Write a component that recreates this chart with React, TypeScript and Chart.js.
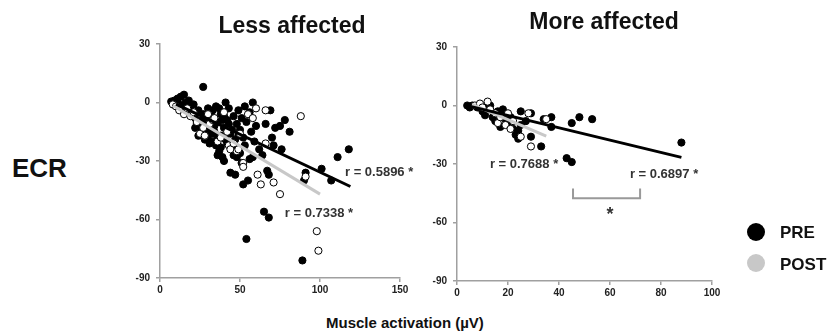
import React, { useEffect, useRef } from "react";
import { Chart, registerables } from "chart.js";
Chart.register(...registerables);

type Pt = [number, number];

// ---------- Data: Less affected ----------
const lessPre: Pt[] = [
  [7, 0.5], [9, 1], [11, 2], [12, -1], [13, 3], [14, -2], [15, 4], [16, 0], [17, -3], [18, 1],
  [19, -2], [20, -5], [21, -1], [22, -8], [23, -11], [24, -4], [25, -12], [26, -14], [27, 8], [27, -6],
  [28, -9], [29, -16], [30, -3], [30, -18], [31, -12], [32, -7], [33, -20], [34, -15], [35, -2], [35, -22],
  [36, -10], [37, -25], [38, -6], [38, -17], [39, -28], [40, -13], [40, -30], [41, 0], [42, -9], [42, -21],
  [43, -3], [44, -16], [45, -24], [46, -7], [47, -19], [48, -11], [48, -28], [49, -4], [50, -14], [50, -26],
  [51, -8], [51, -31], [52, -18], [52, -42], [53, -2], [53, -22], [54, -10], [54, -70], [55, -40], [56, -5],
  [56, -29], [57, -15], [58, 0], [58, -28], [59, -20], [60, -12], [62, -24], [64, -27], [65, -56], [66, -11],
  [67, -35], [68, -59], [68, -37], [69, -4], [70, -18], [71, -22], [72, -13], [75, -12], [76, -24], [78, -9],
  [81, -15], [89, -81], [90, -40], [91, -36], [101, -34], [107, -40], [111, -28], [118, -24], [47, -37], [44, -36],
  [22, -13], [24, -17], [26, -9], [28, -19], [31, -21], [33, -4], [34, -12], [36, -18], [37, -3], [39, -9],
  [41, -19], [43, -11], [45, -14], [46, -27], [49, -17], [36, -27], [38, -23], [40, -7], [33, -16], [30, -14],
];
const lessPost: Pt[] = [
  [8, -1], [10, -2], [12, -4], [15, -6], [17, -3], [19, -7], [21, -5], [23, -10], [25, -16], [27, -13],
  [28, -17], [30, -6], [31, -11], [33, -9], [34, -8], [36, -20], [38, -18], [40, -5], [42, -15], [43, -22],
  [44, -24], [46, -21], [48, -25], [49, -24], [50, -16], [52, -31], [52, -33], [55, -6], [58, -8], [60, -3],
  [61, -37], [63, -42], [66, -4], [66, -21], [71, -41], [75, -47], [88, -7], [91, -38], [98, -66], [99, -76],
];
const lessPreFit = { slope: -0.388, intercept: 3.1, xStart: 10, xEnd: 119 };
const lessPostFit = { slope: -0.494, intercept: 2.4, xStart: 8, xEnd: 100 };
const lessLabels = [
  { text: "r = 0.5896 *", x: 115.6, y: -36 },
  { text: "r = 0.7338 *", x: 78, y: -57 },
];

// ---------- Data: More affected ----------
const morePre: Pt[] = [
  [4, 0], [5, -1], [6, 0], [8, -1], [10, -3], [11, -5], [12, -1], [13, 0], [14, -6], [15, -8],
  [16, -3], [17, -11], [18, -2], [19, -7], [20, -9], [21, -6], [22, -12], [23, -15], [24, -17], [24, -13],
  [25, -10], [25, -3], [27, -8], [29, -16], [29, -4], [33, -21], [34, -7], [37, -6], [37, -11], [43, -27],
  [45, -29], [45, -9], [48, -6], [53, -7], [88, -19],
];
const morePost: Pt[] = [
  [7, 0], [9, 1], [10, -1], [12, 2], [13, -2], [15, -4], [16, -9], [17, -6], [19, -10], [20, -4],
  [21, -12], [22, -8], [25, -16], [28, -4], [29, -21], [35, -7],
];
const morePreFit = { slope: -0.316, intercept: 1.2, xStart: 4, xEnd: 88 };
const morePostFit = { slope: -0.56, intercept: 3.9, xStart: 6, xEnd: 35 };
const moreLabels = [
  { text: "r = 0.7688 *", x: 12.9, y: -30.3 },
  { text: "r = 0.6897 *", x: 67.8, y: -35.4 },
];
const moreBracket = { x1: 45.5, x2: 71.8, yTop: -42.5, yBottom: -47.5 };
const moreStar = { text: "*", x: 60, y: -56 };

// ---------- Axes ----------
const yMin = -90, yMax = 30, yStep = 30;
const lessXMax = 150, lessXStep = 50;
const moreXMax = 100, moreXStep = 20;

const FONT = "'Liberation Sans', Arial, sans-serif";
const AXIS = "#a0a0a0";

type Fit = { slope: number; intercept: number; xStart: number; xEnd: number };
type Label = { text: string; x: number; y: number };

const fitPoints = (f: Fit) => [
  { x: f.xStart, y: f.slope * f.xStart + f.intercept },
  { x: f.xEnd, y: f.slope * f.xEnd + f.intercept },
];
const toXY = (a: Pt[]) => a.map(([x, y]) => ({ x, y }));

function makeConfig(
  pre: Pt[], post: Pt[], preFit: Fit, postFit: Fit, xMax: number, xStep: number,
  labels: Label[], padding: any, bracket?: typeof moreBracket, star?: Label
): any {
  const annot = {
    id: "annot",
    afterDatasetsDraw(chart: any) {
      const { ctx, scales } = chart;
      const sx = scales.x, sy = scales.y;
      ctx.save();
      ctx.fillStyle = "#333";
      ctx.font = `bold 13px ${FONT}`;
      ctx.textAlign = "left";
      ctx.textBaseline = "middle";
      labels.forEach((l) => ctx.fillText(l.text, sx.getPixelForValue(l.x), sy.getPixelForValue(l.y)));
      if (bracket) {
        ctx.strokeStyle = "#999";
        ctx.lineWidth = 2;
        ctx.beginPath();
        ctx.moveTo(sx.getPixelForValue(bracket.x1), sy.getPixelForValue(bracket.yTop));
        ctx.lineTo(sx.getPixelForValue(bracket.x1), sy.getPixelForValue(bracket.yBottom));
        ctx.lineTo(sx.getPixelForValue(bracket.x2), sy.getPixelForValue(bracket.yBottom));
        ctx.lineTo(sx.getPixelForValue(bracket.x2), sy.getPixelForValue(bracket.yTop));
        ctx.stroke();
      }
      if (star) {
        ctx.font = `bold 18px ${FONT}`;
        ctx.textAlign = "center";
        ctx.fillText(star.text, sx.getPixelForValue(star.x), sy.getPixelForValue(star.y));
      }
      ctx.restore();
    },
  };
  const tickFont = { family: FONT, size: 10, weight: "bold" as const };
  return {
    type: "scatter",
    data: {
      datasets: [
        { data: fitPoints(preFit), showLine: true, pointRadius: 0, borderColor: "#000", borderWidth: 3 },
        { data: fitPoints(postFit), showLine: true, pointRadius: 0, borderColor: "#c8c8c8", borderWidth: 3 },
        { data: toXY(post), pointRadius: 3.6, backgroundColor: "#fff", borderColor: "#000", borderWidth: 1 },
        { data: toXY(pre), pointRadius: 3.6, backgroundColor: "#000", borderColor: "#000", borderWidth: 1 },
      ],
    },
    options: {
      responsive: false,
      animation: false,
      layout: { padding },
      plugins: { legend: { display: false }, tooltip: { enabled: false } },
      scales: {
        x: {
          type: "linear", min: 0, max: xMax,
          ticks: { stepSize: xStep, font: tickFont, color: "#222", padding: 2, maxRotation: 0 },
          grid: { drawOnChartArea: false, color: AXIS, tickLength: 4, lineWidth: 1.5 },
          border: { color: AXIS, width: 1.5 },
          afterFit: (s: any) => { s.height = 24; },
        },
        y: {
          type: "linear", min: yMin, max: yMax,
          ticks: { stepSize: yStep, font: tickFont, color: "#222", padding: 6 },
          grid: { drawOnChartArea: false, color: AXIS, tickLength: 4, lineWidth: 1.5 },
          border: { color: AXIS, width: 1.5 },
          afterFit: (s: any) => { s.width = 50; },
        },
      },
    },
    plugins: [annot],
  };
}

function Txt(props: { text: string; left: number; baseline: number; size: number; center?: boolean }) {
  const { text, left, baseline, size, center } = props;
  return (
    <div
      style={{
        position: "absolute",
        left: center ? left - 150 : left,
        width: center ? 300 : undefined,
        textAlign: center ? "center" : "left",
        top: baseline - 0.85 * size,
        fontFamily: FONT,
        fontWeight: "bold",
        fontSize: size,
        lineHeight: 1,
        whiteSpace: "nowrap",
        color: "#111",
      }}
    >
      {text}
    </div>
  );
}

export default function App() {
  const c1 = useRef<HTMLCanvasElement>(null);
  const c2 = useRef<HTMLCanvasElement>(null);
  useEffect(() => {
    const ch1 = new Chart(c1.current!, makeConfig(lessPre, lessPost, lessPreFit, lessPostFit, lessXMax, lessXStep, lessLabels,
      { left: 10, top: 14, right: 40, bottom: 8 }));
    const ch2 = new Chart(c2.current!, makeConfig(morePre, morePost, morePreFit, morePostFit, moreXMax, moreXStep, moreLabels,
      { left: 7, top: 17, right: 18, bottom: 5 }, moreBracket, moreStar));
    return () => { ch1.destroy(); ch2.destroy(); };
  }, []);
  return (
    <div style={{ position: "fixed", left: 0, top: 0, width: 829, height: 334, background: "#fff", overflow: "hidden" }}>
      <canvas ref={c1} width={340} height={280} style={{ position: "absolute", left: 100, top: 30 }} />
      <canvas ref={c2} width={330} height={280} style={{ position: "absolute", left: 400, top: 30 }} />
      <Txt text="Less affected" left={292} baseline={34} size={23} center />
      <Txt text="More affected" left={604} baseline={30} size={23} center />
      <Txt text="ECR" left={12} baseline={177} size={26} />
      <Txt text="Muscle activation (µV)" left={326} baseline={328} size={15} />
      <div style={{ position: "absolute", left: 747, top: 223, width: 18, height: 18, borderRadius: 9, background: "#000" }} />
      <div style={{ position: "absolute", left: 747, top: 254, width: 18, height: 18, borderRadius: 9, background: "#c8c8c8" }} />
      <Txt text="PRE" left={780} baseline={238} size={17} />
      <Txt text="POST" left={780} baseline={270} size={17} />
    </div>
  );
}
